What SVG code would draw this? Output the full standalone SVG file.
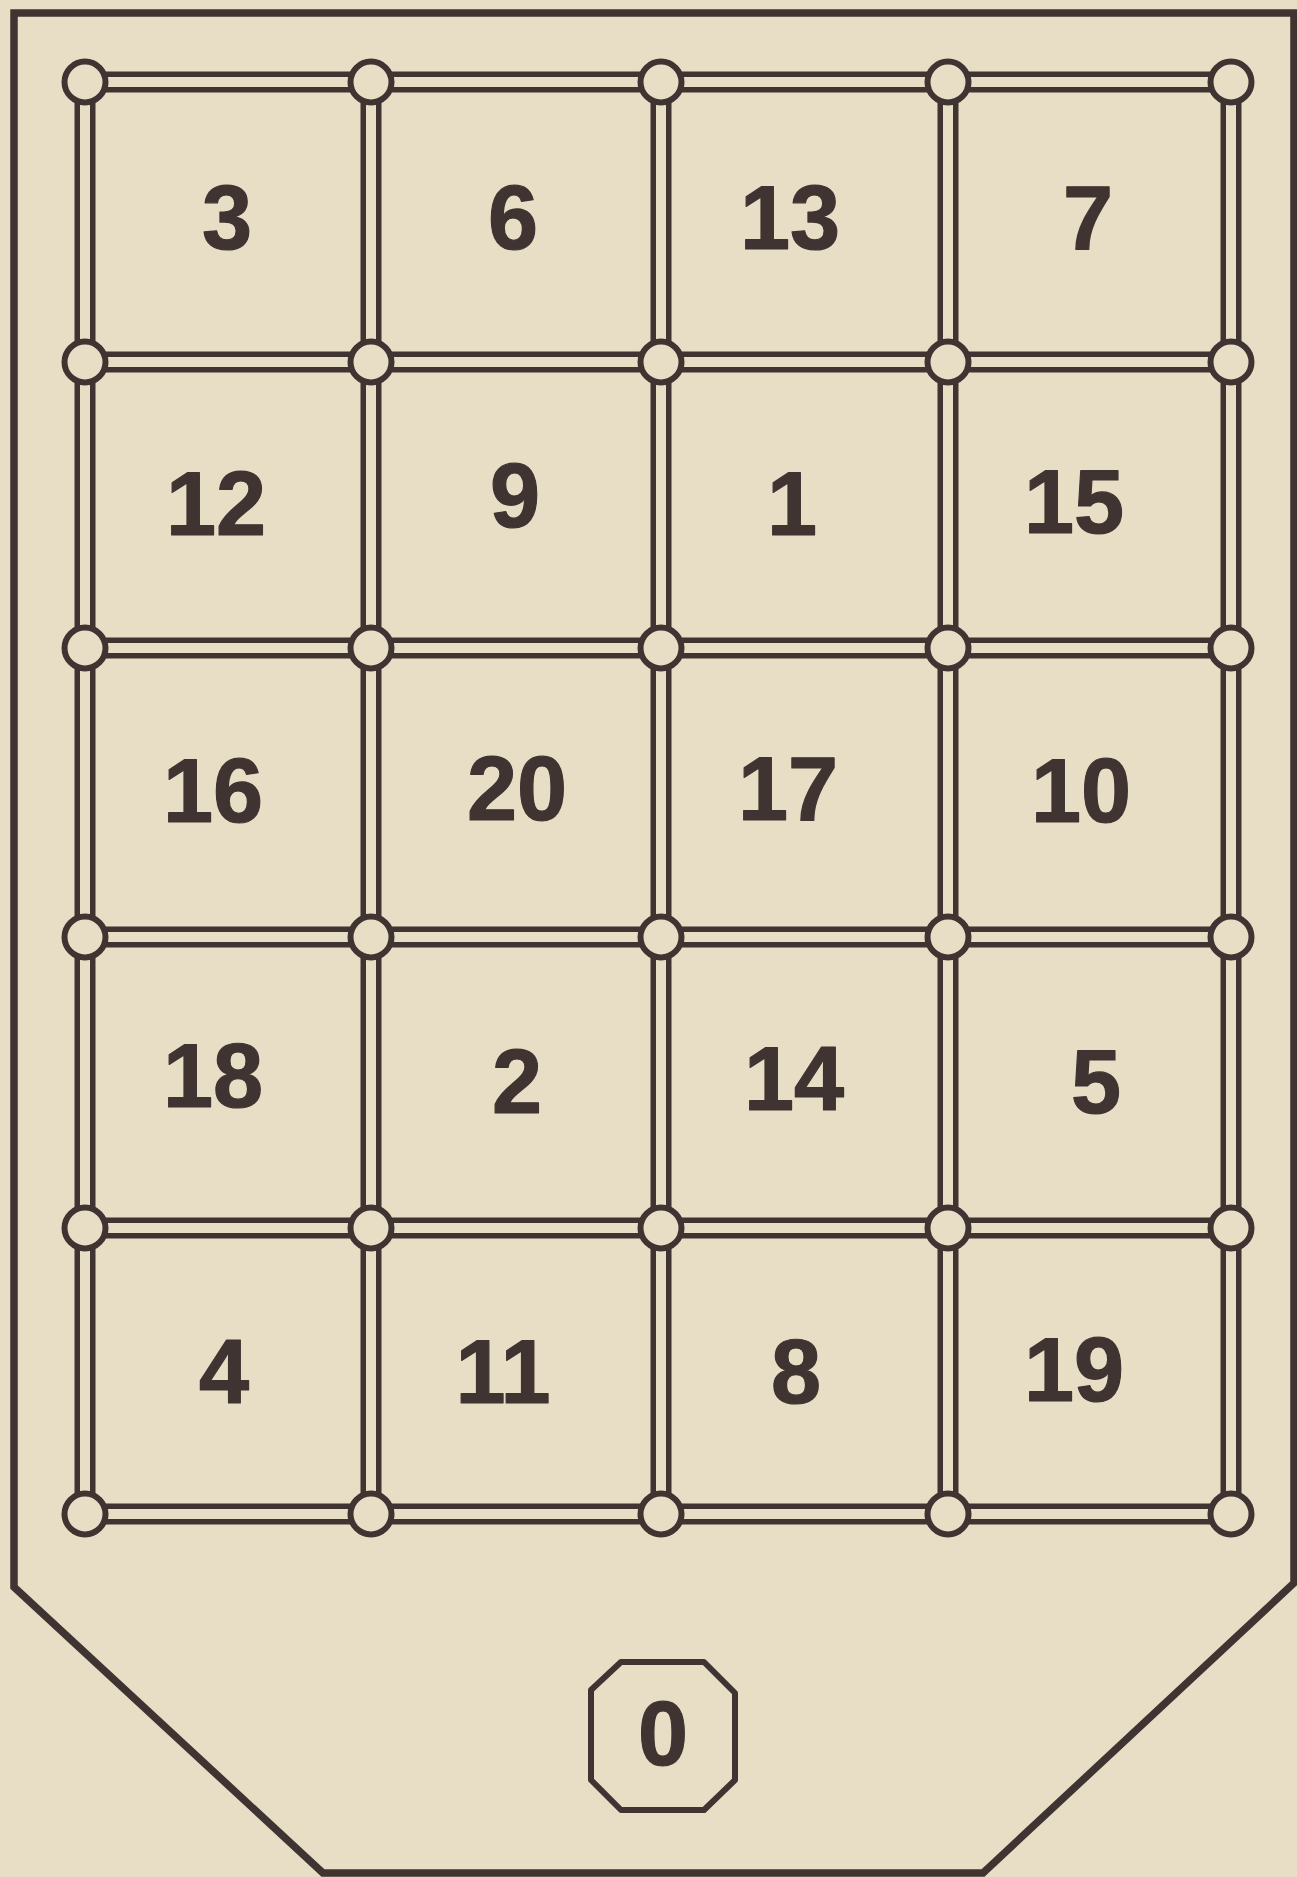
<svg xmlns="http://www.w3.org/2000/svg" width="1297" height="1877" viewBox="0 0 1297 1877">
<style>
.bg{fill:#E8DDC5}
.frame{fill:none;stroke:#3F3431;stroke-width:7.5;stroke-linejoin:miter}
.rail{stroke:#3F3431;stroke-width:21;fill:none}
.gap{stroke:#E8DDC5;stroke-width:10;fill:none}
.node{fill:#E8DDC5;stroke:#3F3431;stroke-width:6}
.num{font-family:"Liberation Sans",Arial,sans-serif;font-weight:bold;font-size:90px;fill:#3F3431;stroke:#3F3431;stroke-width:1.2;stroke-linejoin:round;text-anchor:middle}
.oct{fill:none;stroke:#3F3431;stroke-width:6;stroke-linejoin:round}
</style>
<rect class="bg" x="0" y="0" width="1297" height="1877"/>
<path class="frame" d="M14 13 L1294 13 L1294 1583 L983 1873 L323 1873 L14 1587 Z"/>
<g id="connectors">
<g class="rail">
<path d="M85 82H1231M85 362H1231M85 648H1231M85 937H1231M85 1228H1231M85 1514H1231"/>
<path d="M85 82V1514M371 82V1514M661 82V1514M948 82V1514M1231 82V1514"/>
</g>
<g class="gap">
<path d="M85 82H1231M85 362H1231M85 648H1231M85 937H1231M85 1228H1231M85 1514H1231"/>
<path d="M85 82V1514M371 82V1514M661 82V1514M948 82V1514M1231 82V1514"/>
</g>
</g>
<g id="junctions">
<g id="j-r1"><circle class="node" cx="85" cy="82" r="20.5"/><circle class="node" cx="371" cy="82" r="20.5"/><circle class="node" cx="661" cy="82" r="20.5"/><circle class="node" cx="948" cy="82" r="20.5"/><circle class="node" cx="1231" cy="82" r="20.5"/></g>
<g id="j-r2"><circle class="node" cx="85" cy="362" r="20.5"/><circle class="node" cx="371" cy="362" r="20.5"/><circle class="node" cx="661" cy="362" r="20.5"/><circle class="node" cx="948" cy="362" r="20.5"/><circle class="node" cx="1231" cy="362" r="20.5"/></g>
<g id="j-r3"><circle class="node" cx="85" cy="648" r="20.5"/><circle class="node" cx="371" cy="648" r="20.5"/><circle class="node" cx="661" cy="648" r="20.5"/><circle class="node" cx="948" cy="648" r="20.5"/><circle class="node" cx="1231" cy="648" r="20.5"/></g>
<g id="j-r4"><circle class="node" cx="85" cy="937" r="20.5"/><circle class="node" cx="371" cy="937" r="20.5"/><circle class="node" cx="661" cy="937" r="20.5"/><circle class="node" cx="948" cy="937" r="20.5"/><circle class="node" cx="1231" cy="937" r="20.5"/></g>
<g id="j-r5"><circle class="node" cx="85" cy="1228" r="20.5"/><circle class="node" cx="371" cy="1228" r="20.5"/><circle class="node" cx="661" cy="1228" r="20.5"/><circle class="node" cx="948" cy="1228" r="20.5"/><circle class="node" cx="1231" cy="1228" r="20.5"/></g>
<g id="j-r6"><circle class="node" cx="85" cy="1514" r="20.5"/><circle class="node" cx="371" cy="1514" r="20.5"/><circle class="node" cx="661" cy="1514" r="20.5"/><circle class="node" cx="948" cy="1514" r="20.5"/><circle class="node" cx="1231" cy="1514" r="20.5"/></g>
</g>
<g id="cells">
<g id="c3"><text class="num" x="227" y="249">3</text></g>
<g id="c6"><text class="num" x="513" y="249">6</text></g>
<g id="c13"><text class="num" x="790" y="249">13</text></g>
<g id="c7"><text class="num" x="1088" y="249">7</text></g>
<g id="c12"><text class="num" x="216" y="535">12</text></g>
<g id="c9"><text class="num" x="515" y="527">9</text></g>
<g id="c1"><text class="num" x="792" y="535">1</text></g>
<g id="c15"><text class="num" x="1074" y="533">15</text></g>
<g id="c16"><text class="num" x="213" y="822">16</text></g>
<g id="c20"><text class="num" x="517" y="820">20</text></g>
<g id="c17"><text class="num" x="788" y="820">17</text></g>
<g id="c10"><text class="num" x="1081" y="822">10</text></g>
<g id="c18"><text class="num" x="213" y="1107">18</text></g>
<g id="c2"><text class="num" x="517" y="1113">2</text></g>
<g id="c14"><text class="num" x="794" y="1110">14</text></g>
<g id="c5"><text class="num" x="1096" y="1113">5</text></g>
<g id="c4"><text class="num" x="224" y="1403">4</text></g>
<g id="c11"><text class="num" x="503" y="1403">11</text></g>
<g id="c8"><text class="num" x="796" y="1403">8</text></g>
<g id="c19"><text class="num" x="1074" y="1401">19</text></g>
</g>
<g id="zero">
<polygon class="oct" points="621,1662 704,1662 735,1693 735,1780 704,1810 621,1810 591,1780 591,1690"/>
<text class="num" x="663" y="1765">0</text>
</g>
</svg>
